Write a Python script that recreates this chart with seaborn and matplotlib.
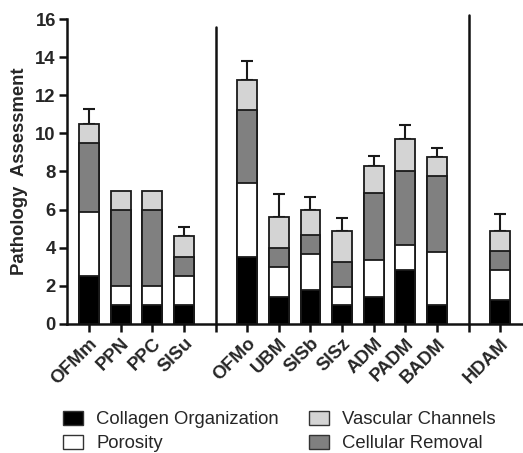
import matplotlib
matplotlib.use("Agg")
import matplotlib.pyplot as plt
from matplotlib.patches import Patch
import numpy as np
import seaborn as sns

categories = ["OFMm", "PPN", "PPC", "SISu", "OFMo", "UBM", "SISb", "SISz",
              "ADM", "PADM", "BADM", "HDAM"]
# empty slots act as group separators
slots = ["OFMm", "PPN", "PPC", "SISu", " ", "OFMo", "UBM", "SISb", "SISz",
         "ADM", "PADM", "BADM", "  ", "HDAM"]
collagen = [2.5, 1.0, 1.0, 1.0, 3.5, 1.4, 1.8, 1.0, 1.4, 2.85, 1.0, 1.25]
porosity = [3.35, 1.0, 1.0, 1.5, 3.9, 1.6, 1.85, 0.95, 1.95, 1.3, 2.75, 1.6]
cellular = [3.65, 4.0, 4.0, 1.0, 3.8, 1.0, 1.0, 1.3, 3.5, 3.9, 4.0, 1.0]
vascular = [1.0, 1.0, 1.0, 1.1, 1.6, 1.6, 1.35, 1.65, 1.45, 1.65, 1.0, 1.05]
sem = [0.8, 0, 0, 0.5, 1.0, 1.2, 0.65, 0.65, 0.5, 0.75, 0.5, 0.85]

labels = ["Collagen Organization", "Porosity", "Cellular Removal", "Vascular Channels"]
colors = ["black", "white", "#808080", "#d4d4d4"]
layers = [collagen, porosity, cellular, vascular]

sns.set_style("ticks")
plt.rcParams["font.family"] = ["Liberation Sans", "DejaVu Sans"]
fs = 13.3

fig = plt.figure(figsize=(5.23, 4.53), dpi=100)
ax = fig.add_axes([0.128, 0.285, 0.872, 0.673])

cum = np.cumsum(np.array(layers), axis=0)
pos = [slots.index(c) for c in categories]

# error bars (upper only)
ex = [p for p, e in zip(pos, sem) if e > 0]
ey = [t for t, e in zip(cum[-1], sem) if e > 0]
ee = [e for e in sem if e > 0]
ax.errorbar(ex, ey, yerr=[[0] * len(ee), ee], fmt="none", ecolor="#1a1a1a",
            elinewidth=1.5, capsize=4.5, capthick=1.5, zorder=1)

# stacked bars drawn as overlays, tallest first
for i in range(len(layers) - 1, -1, -1):
    sns.barplot(x=categories, y=cum[i], order=slots, color=colors[i],
                saturation=1, edgecolor="#1a1a1a", linewidth=1.3, width=0.63,
                errorbar=None, ax=ax, zorder=2)

ax.set_xlim(-0.7, 13.72)
ax.set_ylim(0, 16)
ax.set_yticks(range(0, 17, 2))
ax.set_xticks(range(len(slots)))
ax.set_xticklabels(slots, rotation=45, ha="right", rotation_mode="anchor",
                   fontsize=fs, fontweight="bold")
for t in ax.get_yticklabels():
    t.set_fontsize(fs)
    t.set_fontweight("bold")
ax.set_ylabel("Pathology  Assessment", fontsize=fs, fontweight="bold", labelpad=5)
ax.set_xlabel("")

sns.despine(ax=ax)
for s in ["left", "bottom"]:
    ax.spines[s].set_linewidth(1.8)
    ax.spines[s].set_color("#111111")
ax.tick_params(axis="both", width=1.8, length=6, color="#111111", pad=2)

# group separators
ax.plot([4, 4], [0, 15.6], color="#111111", lw=1.8, clip_on=False)
ax.plot([12, 12], [0, 16.2], color="#111111", lw=1.8, clip_on=False)

handles = [Patch(facecolor=colors[0], edgecolor="#333333"),
           Patch(facecolor=colors[1], edgecolor="#333333"),
           Patch(facecolor=colors[3], edgecolor="#333333"),
           Patch(facecolor=colors[2], edgecolor="#333333")]
leg_labels = [labels[0], labels[1], labels[3], labels[2]]
fig.legend(handles, leg_labels, ncol=2, loc="upper left",
           bbox_to_anchor=(0.103, 0.113), frameon=False, fontsize=fs,
           handlelength=1.1, handleheight=0.75, handletextpad=0.7,
           columnspacing=1.6, labelspacing=0.37, borderpad=0)

fig.savefig("out.png", dpi=100)
